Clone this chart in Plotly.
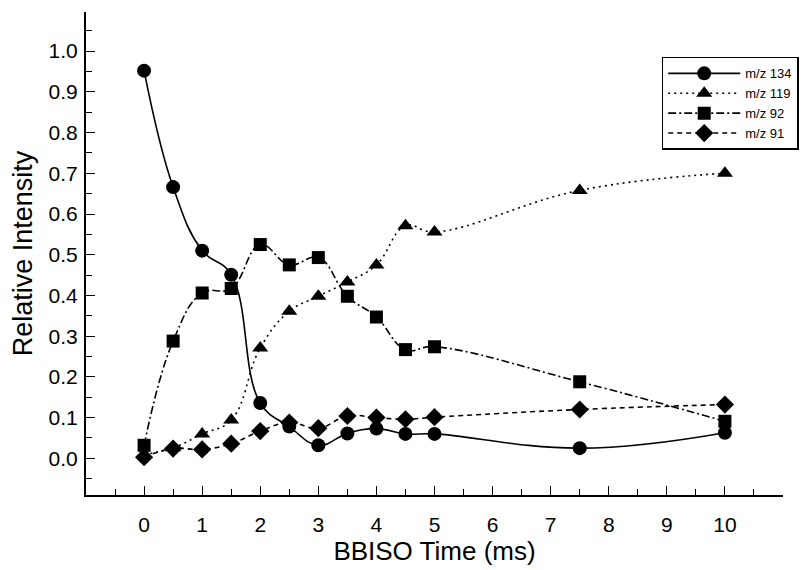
import plotly.graph_objects as go

time_ms = [0, 0.5, 1, 1.5, 2, 2.5, 3, 3.5, 4, 4.5, 5, 7.5, 10]
mz134 = [0.952, 0.666, 0.510, 0.451, 0.136, 0.078, 0.032, 0.061, 0.073, 0.060, 0.060, 0.025, 0.063]
mz119 = [0.010, 0.026, 0.060, 0.094, 0.271, 0.361, 0.398, 0.433, 0.475, 0.571, 0.556, 0.658, 0.700]
mz92 = [0.032, 0.288, 0.406, 0.417, 0.525, 0.475, 0.493, 0.398, 0.347, 0.267, 0.274, 0.188, 0.091]
mz91 = [0.003, 0.024, 0.022, 0.036, 0.067, 0.088, 0.074, 0.104, 0.100, 0.096, 0.101, 0.120, 0.132]
series_names = ["m/z 134", "m/z 119", "m/z 92", "m/z 91"]
x_ticks = [0, 1, 2, 3, 4, 5, 6, 7, 8, 9, 10]
y_ticks = [0.0, 0.1, 0.2, 0.3, 0.4, 0.5, 0.6, 0.7, 0.8, 0.9, 1.0]

FONT = "Liberation Sans, Arial, Helvetica, sans-serif"

styles = [
    dict(symbol="circle", dash="solid", size=14),
    dict(symbol="triangle-up", dash="2px,4px", size=14),
    dict(symbol="square", dash="8px,3px,2px,3px", size=13),
    dict(symbol="diamond", dash="5px,4px", size=14),
]

fig = go.Figure()
for name, vals, st in zip(series_names, [mz134, mz119, mz92, mz91], styles):
    fig.add_trace(go.Scatter(
        x=time_ms, y=vals, name=name, mode="lines+markers",
        line=dict(color="black", width=1.6, dash=st["dash"], shape="spline", smoothing=1.2),
        marker=dict(symbol=st["symbol"], size=st["size"], color="black"),
    ))

fig.update_layout(
    width=811, height=570,
    margin=dict(l=86, r=25, t=12, b=75),
    plot_bgcolor="white", paper_bgcolor="white",
    font=dict(family=FONT, color="black"),
    legend=dict(
        x=0.826, y=0.907, xanchor="left", yanchor="top",
        bordercolor="black", borderwidth=1.5, bgcolor="white",
        font=dict(size=13, family=FONT), itemwidth=72,
        tracegroupgap=0,
    ),
    showlegend=True,
)
fig.update_xaxes(
    range=[-1, 11], showline=True, linecolor="black", linewidth=2,
    tickvals=x_ticks, ticktext=[str(v) for v in x_ticks],
    ticks="inside", ticklen=9, tickwidth=1, tickcolor="black",
    minor=dict(dtick=0.5, tick0=0, ticks="inside", ticklen=6, tickcolor="black"),
    showgrid=False, zeroline=False,
    tickfont=dict(size=21), ticklabelstandoff=10,
    title=dict(text="BBISO Time (ms)", font=dict(size=26), standoff=4),
)
fig.update_yaxes(
    range=[-0.09, 1.096], showline=True, linecolor="black", linewidth=2,
    tickvals=y_ticks, ticktext=[f"{v:.1f}" for v in y_ticks],
    ticks="inside", ticklen=9, tickwidth=1, tickcolor="black",
    minor=dict(dtick=0.05, tick0=0, ticks="inside", ticklen=6, tickcolor="black"),
    showgrid=False, zeroline=False,
    tickfont=dict(size=21), ticklabelstandoff=2,
    title=dict(text="Relative Intensity", font=dict(size=27), standoff=8),
)

fig.write_html("out.html")
